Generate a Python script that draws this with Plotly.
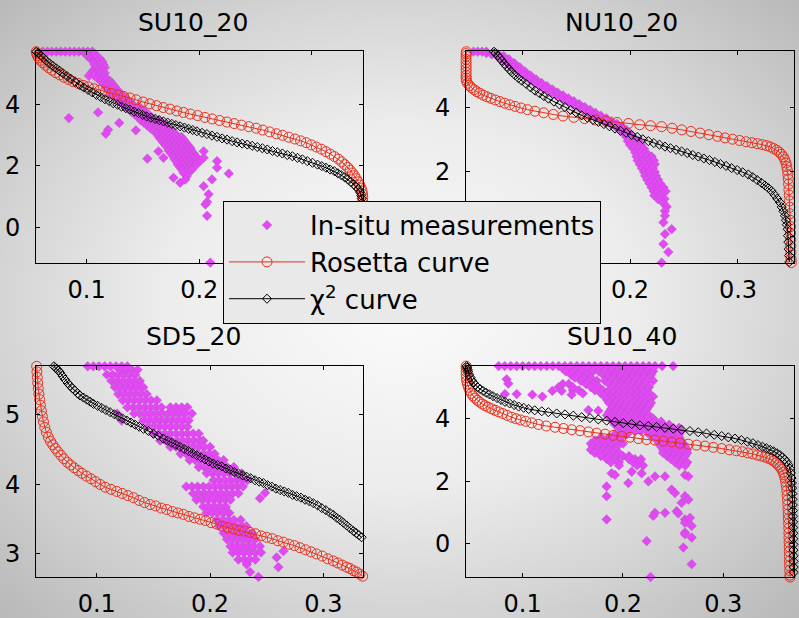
import base64
import plotly.graph_objects as go

# ---------------- DATA ----------------
PANEL_TITLES = ["SU10_20", "NU10_20", "SD5_20", "SU10_40"]
X_TICKS = [0.1, 0.2, 0.3]
Y_TICKS = [[0, 2, 4], [0, 2, 4], [3, 4, 5], [0, 2, 4]]
# tick labels hidden behind the legend in the original are left blank
X_TICKTEXT = [["0.1", "0.2", ""], ["", "0.2", "0.3"], ["0.1", "0.2", "0.3"], ["0.1", "0.2", "0.3"]]
Y_TICKTEXT = [["0", "2", "4"], ["", "2", "4"], ["3", "4", "5"], ["0", "2", "4"]]
X_RANGES = [[0.055, 0.3454], [0.0481, 0.3519], [0.0464, 0.335], [0.0435, 0.3705]]
Y_RANGES = [[-1.15, 5.71], [-0.83, 5.75], [2.663, 5.707], [-1.07, 5.68]]

# SU10_20
su1020_rosetta = [
    (0.0552, 5.70), (0.0556, 5.64), (0.0562, 5.57), (0.0572, 5.50), (0.0590, 5.42), (0.0612, 5.34),
    (0.0636, 5.26), (0.0662, 5.18), (0.0692, 5.10), (0.0725, 5.02), (0.0760, 4.95), (0.0800, 4.87),
    (0.0840, 4.80), (0.0880, 4.73), (0.0925, 4.67), (0.0970, 4.61), (0.1015, 4.56), (0.1065, 4.50),
    (0.1115, 4.45), (0.1165, 4.40), (0.1220, 4.35), (0.1275, 4.30), (0.1330, 4.25), (0.1385, 4.20),
    (0.1440, 4.14), (0.1500, 4.07), (0.1560, 4.01), (0.1620, 3.95), (0.1680, 3.89), (0.1740, 3.84),
    (0.1800, 3.78), (0.1860, 3.73), (0.1920, 3.68), (0.1985, 3.63), (0.2050, 3.57), (0.2115, 3.52),
    (0.2180, 3.47), (0.2245, 3.42), (0.2310, 3.37), (0.2375, 3.32), (0.2440, 3.27), (0.2505, 3.22),
    (0.2565, 3.16), (0.2625, 3.10), (0.2685, 3.04), (0.2740, 2.99), (0.2795, 2.93), (0.2850, 2.87),
    (0.2900, 2.81), (0.2950, 2.75), (0.2995, 2.68), (0.3040, 2.61), (0.3085, 2.54), (0.3125, 2.46),
    (0.3165, 2.38), (0.3200, 2.30), (0.3235, 2.22), (0.3265, 2.13), (0.3292, 2.04), (0.3318, 1.95),
    (0.3340, 1.86), (0.3360, 1.77), (0.3378, 1.68), (0.3395, 1.58), (0.3410, 1.48), (0.3425, 1.38),
    (0.3437, 1.28), (0.3445, 1.18), (0.3450, 1.08), (0.3452, 0.98), (0.3452, 0.85), (0.3452, 0.70),
    (0.3452, 0.50), (0.3452, 0.20), (0.3452, -0.20), (0.3452, -0.60), (0.3452, -1.10),
]
su1020_chi2 = [
    (0.0553, 5.70), (0.0570, 5.66), (0.0592, 5.58), (0.0615, 5.50), (0.0642, 5.41), (0.0670, 5.32),
    (0.0700, 5.24), (0.0730, 5.16), (0.0760, 5.08), (0.0790, 5.00), (0.0825, 4.91), (0.0860, 4.82),
    (0.0898, 4.72), (0.0938, 4.62), (0.0975, 4.54), (0.1012, 4.46), (0.1050, 4.38), (0.1087, 4.30),
    (0.1125, 4.23), (0.1162, 4.16), (0.1200, 4.10), (0.1236, 4.03), (0.1275, 3.98), (0.1310, 3.92),
    (0.1348, 3.87), (0.1385, 3.82), (0.1422, 3.76), (0.1460, 3.71), (0.1498, 3.65), (0.1533, 3.60),
    (0.1570, 3.56), (0.1608, 3.52), (0.1645, 3.48), (0.1682, 3.44), (0.1720, 3.40), (0.1756, 3.36),
    (0.1793, 3.32), (0.1830, 3.28), (0.1868, 3.24), (0.1905, 3.20), (0.1942, 3.16), (0.1979, 3.12),
    (0.2024, 3.07), (0.2068, 3.03), (0.2113, 2.98), (0.2158, 2.94), (0.2203, 2.89), (0.2247, 2.85),
    (0.2292, 2.80), (0.2336, 2.76), (0.2381, 2.72), (0.2426, 2.69), (0.2470, 2.65), (0.2515, 2.61),
    (0.2560, 2.57), (0.2604, 2.53), (0.2650, 2.48), (0.2693, 2.44), (0.2738, 2.40), (0.2782, 2.35),
    (0.2827, 2.31), (0.2872, 2.26), (0.2916, 2.21), (0.2960, 2.15), (0.3005, 2.10), (0.3050, 2.04),
    (0.3088, 1.99), (0.3125, 1.94), (0.3162, 1.88), (0.3199, 1.83), (0.3230, 1.76), (0.3260, 1.70),
    (0.3290, 1.63), (0.3318, 1.56), (0.3345, 1.48), (0.3370, 1.40), (0.3393, 1.32), (0.3412, 1.24),
    (0.3428, 1.14), (0.3437, 1.04), (0.3443, 0.94), (0.3447, 0.80), (0.3450, 0.60), (0.3452, 0.30),
    (0.3453, -0.10), (0.3453, -0.50), (0.3453, -1.00),
]
su1020_insitu = [
    (0.061, 5.70), (0.065, 5.70), (0.069, 5.70), (0.073, 5.70), (0.077, 5.70), (0.081, 5.70),
    (0.085, 5.70), (0.089, 5.70), (0.093, 5.70), (0.097, 5.70), (0.101, 5.70), (0.105, 5.70),
    (0.099, 5.64), (0.103, 5.64), (0.107, 5.64),
    (0.101, 5.55), (0.105, 5.55), (0.109, 5.55),
    (0.104, 5.46), (0.108, 5.46), (0.112, 5.46),
    (0.106, 5.37), (0.110, 5.37), (0.114, 5.37),
    (0.107, 5.28), (0.111, 5.28), (0.115, 5.28),
    (0.108, 5.19), (0.112, 5.19), (0.116, 5.19),
    (0.106, 5.10), (0.110, 5.10), (0.114, 5.10),
    (0.104, 5.01), (0.108, 5.01), (0.112, 5.01), (0.116, 5.01),
    (0.102, 4.92), (0.107, 4.92), (0.111, 4.92), (0.115, 4.92),
    (0.110, 4.83), (0.114, 4.83), (0.118, 4.83),
    (0.113, 4.74), (0.117, 4.74), (0.121, 4.74),
    (0.115, 4.65), (0.119, 4.65), (0.123, 4.65),
    (0.117, 4.56), (0.121, 4.56), (0.125, 4.56),
    (0.119, 4.47), (0.123, 4.47), (0.127, 4.47),
    (0.121, 4.38), (0.125, 4.38), (0.129, 4.38),
    (0.124, 4.29), (0.128, 4.29), (0.132, 4.29),
    (0.127, 4.20), (0.131, 4.20), (0.135, 4.20),
    (0.129, 4.11), (0.133, 4.11), (0.137, 4.11),
    (0.132, 4.02), (0.136, 4.02), (0.140, 4.02),
    (0.134, 3.93), (0.138, 3.93), (0.142, 3.93), (0.146, 3.93),
    (0.137, 3.84), (0.141, 3.84), (0.145, 3.84), (0.149, 3.84),
    (0.140, 3.75), (0.144, 3.75), (0.148, 3.75), (0.152, 3.75),
    (0.143, 3.66), (0.147, 3.66), (0.151, 3.66), (0.155, 3.66),
    (0.146, 3.57), (0.150, 3.57), (0.154, 3.57), (0.158, 3.57),
    (0.148, 3.48), (0.152, 3.48), (0.156, 3.48), (0.160, 3.48), (0.164, 3.48),
    (0.151, 3.39), (0.155, 3.39), (0.159, 3.39), (0.163, 3.39), (0.167, 3.39),
    (0.154, 3.30), (0.158, 3.30), (0.162, 3.30), (0.166, 3.30), (0.170, 3.30),
    (0.157, 3.21), (0.161, 3.21), (0.165, 3.21), (0.169, 3.21), (0.173, 3.21),
    (0.160, 3.12), (0.164, 3.12), (0.168, 3.12), (0.172, 3.12), (0.176, 3.12),
    (0.163, 3.03), (0.167, 3.03), (0.171, 3.03), (0.175, 3.03), (0.179, 3.03),
    (0.164, 2.94), (0.168, 2.94), (0.172, 2.94), (0.176, 2.94), (0.180, 2.94), (0.184, 2.94),
    (0.166, 2.85), (0.170, 2.85), (0.174, 2.85), (0.178, 2.85), (0.182, 2.85), (0.186, 2.85),
    (0.168, 2.76), (0.172, 2.76), (0.176, 2.76), (0.180, 2.76), (0.184, 2.76), (0.188, 2.76),
    (0.170, 2.67), (0.174, 2.67), (0.178, 2.67), (0.182, 2.67), (0.186, 2.67), (0.190, 2.67),
    (0.172, 2.58), (0.176, 2.58), (0.180, 2.58), (0.184, 2.58), (0.188, 2.58), (0.192, 2.58),
    (0.173, 2.49), (0.177, 2.49), (0.181, 2.49), (0.185, 2.49), (0.189, 2.49), (0.193, 2.49),
    (0.175, 2.40), (0.179, 2.40), (0.183, 2.40), (0.187, 2.40), (0.191, 2.40), (0.195, 2.40),
    (0.177, 2.31), (0.181, 2.31), (0.185, 2.31), (0.189, 2.31), (0.193, 2.31), (0.197, 2.31),
    (0.178, 2.22), (0.182, 2.22), (0.186, 2.22), (0.190, 2.22), (0.194, 2.22), (0.198, 2.22),
    (0.180, 2.13), (0.184, 2.13), (0.188, 2.13), (0.192, 2.13), (0.196, 2.13), (0.200, 2.13),
    (0.181, 2.04), (0.185, 2.04), (0.189, 2.04), (0.193, 2.04), (0.197, 2.04),
    (0.183, 1.95), (0.187, 1.95), (0.191, 1.95), (0.195, 1.95),
    (0.185, 1.86), (0.189, 1.86), (0.193, 1.86),
    (0.186, 1.77), (0.190, 1.77),
    (0.0842, 3.55), (0.1101, 3.73), (0.1190, 3.17), (0.1170, 3.04), (0.1289, 3.39), (0.1437, 3.15),
    (0.1539, 2.23), (0.1637, 2.47), (0.1682, 2.26), (0.1771, 1.61), (0.1830, 1.45), (0.1890, 1.67),
    (0.1875, 1.55), (0.2039, 2.47), (0.2039, 2.26), (0.2158, 2.15), (0.2158, 1.94), (0.2262, 1.75),
    (0.2113, 1.56), (0.2039, 1.34), (0.2083, 1.08), (0.2054, 0.75), (0.2069, 0.83), (0.2069, 0.38),
    (0.2098, -1.14),
]

# NU10_20
nu1020_rosetta = [
    (0.0484, 5.74), (0.0483, 5.68), (0.0482, 5.60), (0.0482, 5.50), (0.0482, 5.40), (0.0482, 5.30),
    (0.0482, 5.20), (0.0482, 5.10), (0.0482, 5.00), (0.0482, 4.92), (0.0484, 4.84), (0.0495, 4.76),
    (0.0512, 4.69), (0.0532, 4.62), (0.0555, 4.56), (0.0580, 4.50), (0.0608, 4.45), (0.0640, 4.39),
    (0.0675, 4.34), (0.0712, 4.29), (0.0752, 4.24), (0.0795, 4.19), (0.0840, 4.14), (0.0885, 4.09),
    (0.0935, 4.04), (0.0990, 3.99), (0.1050, 3.94), (0.1120, 3.89), (0.1200, 3.84), (0.1290, 3.79),
    (0.1380, 3.74), (0.1480, 3.70), (0.1580, 3.66), (0.1680, 3.62), (0.1780, 3.58), (0.1880, 3.54),
    (0.1985, 3.51), (0.2090, 3.47), (0.2190, 3.44), (0.2293, 3.41), (0.2390, 3.36), (0.2480, 3.31),
    (0.2565, 3.26), (0.2650, 3.21), (0.2730, 3.16), (0.2810, 3.11), (0.2880, 3.06), (0.2950, 3.02),
    (0.3015, 2.98), (0.3075, 2.94), (0.3130, 2.91), (0.3180, 2.88), (0.3225, 2.85), (0.3265, 2.82),
    (0.3300, 2.78), (0.3330, 2.73), (0.3358, 2.68), (0.3382, 2.62), (0.3402, 2.55), (0.3420, 2.47),
    (0.3434, 2.38), (0.3445, 2.28), (0.3452, 2.17), (0.3458, 2.05), (0.3462, 1.92), (0.3466, 1.78),
    (0.3469, 1.62), (0.3472, 1.45), (0.3475, 1.28), (0.3478, 1.10), (0.3480, 0.90), (0.3482, 0.70),
    (0.3484, 0.50), (0.3486, 0.30), (0.3487, 0.10), (0.3488, -0.10), (0.3489, -0.30), (0.3490, -0.50),
    (0.3492, -0.70), (0.3494, -0.82),
]
nu1020_chi2 = [
    (0.0740, 5.74), (0.0755, 5.70), (0.0775, 5.62), (0.0795, 5.54), (0.0812, 5.46), (0.0835, 5.37),
    (0.0858, 5.28), (0.0882, 5.19), (0.0905, 5.10), (0.0935, 5.01), (0.0966, 4.92), (0.0997, 4.84),
    (0.1038, 4.74), (0.1079, 4.63), (0.1120, 4.53), (0.1161, 4.45), (0.1202, 4.36), (0.1244, 4.28),
    (0.1295, 4.19), (0.1347, 4.10), (0.1398, 4.02), (0.1450, 3.93), (0.1501, 3.85), (0.1553, 3.76),
    (0.1604, 3.69), (0.1656, 3.62), (0.1707, 3.56), (0.1758, 3.49), (0.1810, 3.42), (0.1861, 3.35),
    (0.1912, 3.28), (0.1964, 3.22), (0.2015, 3.15), (0.2067, 3.09), (0.2118, 3.02), (0.2170, 2.96),
    (0.2221, 2.90), (0.2273, 2.85), (0.2324, 2.79), (0.2375, 2.74), (0.2427, 2.69), (0.2478, 2.64),
    (0.2530, 2.59), (0.2581, 2.53), (0.2633, 2.48), (0.2684, 2.42), (0.2736, 2.37), (0.2787, 2.31),
    (0.2838, 2.25), (0.2890, 2.19), (0.2941, 2.12), (0.2993, 2.06), (0.3044, 1.99), (0.3096, 1.92),
    (0.3137, 1.84), (0.3178, 1.75), (0.3219, 1.66), (0.3250, 1.58), (0.3281, 1.50), (0.3312, 1.41),
    (0.3338, 1.29), (0.3364, 1.17), (0.3389, 1.05), (0.3405, 0.91), (0.3420, 0.78), (0.3435, 0.64),
    (0.3444, 0.50), (0.3452, 0.36), (0.3460, 0.22), (0.3463, 0.02), (0.3466, -0.18), (0.3470, -0.40),
    (0.3473, -0.60), (0.3475, -0.80),
]
nu1020_insitu = [
    (0.055, 5.74), (0.059, 5.74), (0.063, 5.74), (0.067, 5.74),
    (0.067, 5.70), (0.073, 5.70), (0.072, 5.66), (0.078, 5.66),
    (0.077, 5.60), (0.083, 5.60), (0.082, 5.50), (0.088, 5.50),
    (0.087, 5.38), (0.093, 5.38), (0.092, 5.25), (0.098, 5.25),
    (0.097, 5.12), (0.103, 5.12), (0.102, 5.00), (0.108, 5.00),
    (0.107, 4.88), (0.113, 4.88), (0.112, 4.77), (0.118, 4.77),
    (0.117, 4.67), (0.123, 4.67), (0.122, 4.57), (0.128, 4.57),
    (0.127, 4.47), (0.133, 4.47), (0.132, 4.38), (0.138, 4.38),
    (0.137, 4.29), (0.143, 4.29), (0.142, 4.20), (0.148, 4.20),
    (0.147, 4.11), (0.153, 4.11), (0.152, 4.02), (0.158, 4.02),
    (0.157, 3.93), (0.163, 3.93), (0.162, 3.84), (0.168, 3.84),
    (0.167, 3.75), (0.173, 3.75), (0.172, 3.67), (0.178, 3.67),
    (0.177, 3.58), (0.183, 3.58), (0.182, 3.50), (0.188, 3.50),
    (0.187, 3.40), (0.193, 3.40), (0.191, 3.30), (0.197, 3.30),
    (0.194, 3.20), (0.200, 3.20), (0.197, 3.08), (0.203, 3.08),
    (0.198, 2.96), (0.203, 2.96), (0.208, 2.96),
    (0.200, 2.84), (0.205, 2.84), (0.210, 2.84),
    (0.203, 2.72), (0.208, 2.72), (0.213, 2.72),
    (0.205, 2.60), (0.210, 2.60), (0.215, 2.60),
    (0.206, 2.48), (0.211, 2.48), (0.216, 2.48), (0.220, 2.48),
    (0.207, 2.36), (0.212, 2.36), (0.217, 2.36), (0.222, 2.36),
    (0.209, 2.24), (0.214, 2.24), (0.219, 2.24), (0.223, 2.24),
    (0.211, 2.12), (0.216, 2.12), (0.221, 2.12),
    (0.213, 2.00), (0.218, 2.00), (0.223, 2.00),
    (0.214, 1.88), (0.219, 1.88), (0.224, 1.88),
    (0.216, 1.76), (0.221, 1.76), (0.226, 1.76),
    (0.218, 1.64), (0.223, 1.64), (0.228, 1.64),
    (0.220, 1.52), (0.225, 1.52), (0.231, 1.52),
    (0.222, 1.40), (0.227, 1.40), (0.233, 1.40),
    (0.2225, 1.27), (0.228, 1.28), (0.232, 1.16),
    (0.226, 1.16), (0.2309, 1.03), (0.234, 0.92),
    (0.2324, 0.79), (0.2324, 0.64), (0.2309, 0.43),
    (0.2386, 0.22), (0.2324, 0.07), (0.2309, -0.24), (0.2355, -0.49), (0.2293, -0.82),
]

# SD5_20
sd520_rosetta = [
    (0.0470, 5.70), (0.0472, 5.62), (0.0475, 5.54), (0.0479, 5.46), (0.0484, 5.38), (0.0490, 5.30),
    (0.0496, 5.22), (0.0503, 5.14), (0.0511, 5.06), (0.0520, 4.98), (0.0530, 4.90), (0.0542, 4.82),
    (0.0556, 4.75), (0.0573, 4.68), (0.0592, 4.62), (0.0612, 4.57), (0.0634, 4.52), (0.0658, 4.47),
    (0.0684, 4.42), (0.0710, 4.37), (0.0740, 4.32), (0.0770, 4.28), (0.0800, 4.24), (0.0835, 4.20),
    (0.0870, 4.16), (0.0910, 4.12), (0.0950, 4.08), (0.0990, 4.04), (0.1030, 4.00), (0.1075, 3.96),
    (0.1125, 3.93), (0.1176, 3.90), (0.1225, 3.87), (0.1275, 3.84), (0.1324, 3.81), (0.1373, 3.77),
    (0.1422, 3.74), (0.1471, 3.71), (0.1520, 3.69), (0.1569, 3.66), (0.1618, 3.64), (0.1667, 3.61),
    (0.1716, 3.59), (0.1765, 3.57), (0.1814, 3.54), (0.1863, 3.52), (0.1912, 3.50), (0.1961, 3.48),
    (0.2010, 3.45), (0.2059, 3.43), (0.2108, 3.40), (0.2157, 3.38), (0.2206, 3.36), (0.2255, 3.34),
    (0.2304, 3.33), (0.2353, 3.31), (0.2402, 3.29), (0.2451, 3.26), (0.2500, 3.24), (0.2549, 3.22),
    (0.2598, 3.19), (0.2647, 3.17), (0.2696, 3.14), (0.2745, 3.12), (0.2794, 3.09), (0.2843, 3.06),
    (0.2892, 3.03), (0.2941, 3.00), (0.2990, 2.97), (0.3039, 2.93), (0.3088, 2.90), (0.3128, 2.87),
    (0.3167, 2.84), (0.3206, 2.81), (0.3236, 2.79), (0.3265, 2.76), (0.3294, 2.74), (0.3323, 2.71),
    (0.3347, 2.68),
]
sd520_chi2 = [
    (0.0622, 5.70), (0.0635, 5.68), (0.0648, 5.66), (0.0661, 5.64), (0.0676, 5.61), (0.0698, 5.56),
    (0.0720, 5.51), (0.0743, 5.46), (0.0765, 5.42), (0.0787, 5.38), (0.0809, 5.35), (0.0831, 5.31),
    (0.0853, 5.28), (0.0883, 5.25), (0.0912, 5.22), (0.0942, 5.19), (0.0971, 5.16), (0.1008, 5.13),
    (0.1045, 5.10), (0.1081, 5.07), (0.1118, 5.04), (0.1155, 5.01), (0.1192, 4.98), (0.1228, 4.95),
    (0.1265, 4.92), (0.1302, 4.89), (0.1339, 4.86), (0.1375, 4.83), (0.1412, 4.80), (0.1456, 4.77),
    (0.1500, 4.73), (0.1544, 4.70), (0.1588, 4.66), (0.1625, 4.63), (0.1662, 4.60), (0.1698, 4.57),
    (0.1735, 4.54), (0.1772, 4.51), (0.1809, 4.48), (0.1845, 4.45), (0.1882, 4.42), (0.1919, 4.39),
    (0.1956, 4.36), (0.1992, 4.33), (0.2029, 4.30), (0.2066, 4.28), (0.2103, 4.26), (0.2139, 4.23),
    (0.2176, 4.21), (0.2213, 4.18), (0.2250, 4.16), (0.2287, 4.13), (0.2324, 4.11), (0.2360, 4.09),
    (0.2397, 4.06), (0.2434, 4.04), (0.2471, 4.02), (0.2508, 3.99), (0.2545, 3.97), (0.2581, 3.94),
    (0.2618, 3.92), (0.2655, 3.90), (0.2692, 3.88), (0.2728, 3.85), (0.2765, 3.83), (0.2802, 3.81),
    (0.2839, 3.78), (0.2875, 3.76), (0.2912, 3.73), (0.2949, 3.70), (0.2986, 3.66), (0.3022, 3.63),
    (0.3059, 3.59), (0.3088, 3.56), (0.3118, 3.52), (0.3147, 3.49), (0.3176, 3.45), (0.3206, 3.41),
    (0.3235, 3.37), (0.3265, 3.33), (0.3290, 3.30), (0.3314, 3.27), (0.3338, 3.24),
]
sd520_insitu = [
    (0.092, 5.70), (0.097, 5.70), (0.102, 5.70), (0.107, 5.70), (0.112, 5.70), (0.117, 5.70), (0.122, 5.70), (0.127, 5.70),
    (0.121, 5.65), (0.126, 5.65), (0.131, 5.65), (0.136, 5.65),
    (0.109, 5.58), (0.114, 5.58), (0.119, 5.58), (0.124, 5.58), (0.129, 5.58), (0.134, 5.58),
    (0.113, 5.49), (0.118, 5.49), (0.123, 5.49), (0.128, 5.49), (0.133, 5.49), (0.138, 5.49),
    (0.116, 5.40), (0.121, 5.40), (0.126, 5.40), (0.131, 5.40), (0.136, 5.40), (0.141, 5.40),
    (0.119, 5.30), (0.124, 5.30), (0.129, 5.30), (0.134, 5.30), (0.139, 5.30), (0.144, 5.30),
    (0.123, 5.21), (0.128, 5.21), (0.133, 5.21), (0.138, 5.21), (0.143, 5.21), (0.148, 5.21), (0.153, 5.21),
    (0.127, 5.11), (0.132, 5.11), (0.137, 5.11), (0.142, 5.11), (0.147, 5.11), (0.152, 5.11), (0.157, 5.11),
    (0.165, 5.11), (0.170, 5.11), (0.175, 5.11), (0.180, 5.11),
    (0.118, 5.02), (0.133, 5.02), (0.138, 5.02), (0.143, 5.02), (0.148, 5.02), (0.153, 5.02), (0.158, 5.02),
    (0.163, 5.02), (0.168, 5.02), (0.173, 5.02), (0.178, 5.02), (0.184, 5.02),
    (0.122, 4.92), (0.141, 4.92), (0.146, 4.92), (0.151, 4.92), (0.156, 4.92), (0.161, 4.92), (0.166, 4.92),
    (0.171, 4.92), (0.176, 4.92), (0.181, 4.92),
    (0.145, 4.83), (0.150, 4.83), (0.155, 4.83), (0.160, 4.83), (0.165, 4.83), (0.170, 4.83), (0.175, 4.83), (0.180, 4.83),
    (0.150, 4.73), (0.155, 4.73), (0.160, 4.73), (0.165, 4.73), (0.170, 4.73), (0.175, 4.73), (0.180, 4.73), (0.185, 4.73), (0.190, 4.73),
    (0.156, 4.63), (0.161, 4.63), (0.166, 4.63), (0.171, 4.63), (0.176, 4.63), (0.181, 4.63), (0.186, 4.63), (0.191, 4.63), (0.194, 4.63),
    (0.165, 4.54), (0.170, 4.54), (0.175, 4.54), (0.180, 4.54), (0.185, 4.54), (0.190, 4.54), (0.195, 4.54), (0.200, 4.54),
    (0.174, 4.44), (0.179, 4.44), (0.184, 4.44), (0.189, 4.44), (0.194, 4.44), (0.199, 4.44), (0.204, 4.44),
    (0.182, 4.35), (0.187, 4.35), (0.192, 4.35), (0.197, 4.35), (0.202, 4.35), (0.207, 4.35), (0.212, 4.35),
    (0.190, 4.25), (0.195, 4.25), (0.200, 4.25), (0.205, 4.25), (0.210, 4.25), (0.215, 4.25), (0.221, 4.25),
    (0.197, 4.16), (0.202, 4.16), (0.207, 4.16), (0.212, 4.16), (0.217, 4.16), (0.222, 4.16), (0.228, 4.16),
    (0.203, 4.06), (0.208, 4.06), (0.213, 4.06), (0.218, 4.06), (0.223, 4.06), (0.228, 4.06), (0.233, 4.06),
    (0.179, 3.97), (0.184, 3.97), (0.189, 3.97), (0.194, 3.97), (0.199, 3.97), (0.204, 3.97), (0.209, 3.97),
    (0.214, 3.97), (0.219, 3.97), (0.224, 3.97), (0.229, 3.97),
    (0.185, 3.87), (0.190, 3.87), (0.195, 3.87), (0.200, 3.87), (0.205, 3.87), (0.210, 3.87), (0.215, 3.87),
    (0.220, 3.87), (0.225, 3.87), (0.2486, 3.88), (0.244, 3.80),
    (0.188, 3.78), (0.193, 3.78), (0.198, 3.78), (0.203, 3.78), (0.208, 3.78), (0.213, 3.78), (0.218, 3.78),
    (0.194, 3.68), (0.199, 3.68), (0.204, 3.68), (0.209, 3.68), (0.214, 3.68),
    (0.197, 3.59), (0.202, 3.59), (0.207, 3.59), (0.212, 3.59), (0.217, 3.59),
    (0.206, 3.49), (0.211, 3.49), (0.216, 3.49), (0.221, 3.49), (0.227, 3.49),
    (0.208, 3.40), (0.213, 3.40), (0.218, 3.40), (0.223, 3.40), (0.228, 3.40), (0.232, 3.40),
    (0.212, 3.30), (0.217, 3.30), (0.222, 3.30), (0.227, 3.30), (0.232, 3.30), (0.237, 3.30),
    (0.215, 3.21), (0.220, 3.21), (0.225, 3.21), (0.230, 3.21), (0.235, 3.21), (0.240, 3.21),
    (0.218, 3.11), (0.223, 3.11), (0.228, 3.11), (0.233, 3.11), (0.238, 3.11), (0.244, 3.11),
    (0.220, 3.02), (0.225, 3.02), (0.230, 3.02), (0.235, 3.02), (0.240, 3.02), (0.245, 3.02),
    (0.225, 2.92), (0.230, 2.92), (0.235, 2.92), (0.240, 2.92),
    (0.2324, 2.85), (0.2353, 2.74), (0.2427, 2.67), (0.2588, 2.95), (0.2603, 2.81), (0.2647, 3.04),
]

# SU10_40
su1040_rosetta = [
    (0.0437, 5.67), (0.0437, 5.60), (0.0437, 5.50), (0.0437, 5.40), (0.0438, 5.30),
    (0.0442, 5.20), (0.0450, 5.10), (0.0460, 5.00), (0.0472, 4.90), (0.0488, 4.80), (0.0505, 4.72),
    (0.0525, 4.65), (0.0548, 4.58), (0.0572, 4.52), (0.0598, 4.46), (0.0625, 4.41), (0.0655, 4.36),
    (0.0690, 4.31), (0.0725, 4.26), (0.0760, 4.21), (0.0800, 4.16), (0.0845, 4.10), (0.0890, 4.04),
    (0.0935, 3.99), (0.0980, 3.95), (0.1030, 3.91), (0.1090, 3.86), (0.1156, 3.81), (0.1235, 3.76),
    (0.1323, 3.72), (0.1406, 3.68), (0.1489, 3.64), (0.1572, 3.61), (0.1655, 3.57), (0.1738, 3.53),
    (0.1821, 3.50), (0.1904, 3.46), (0.1987, 3.43), (0.2070, 3.40), (0.2153, 3.36), (0.2236, 3.33),
    (0.2319, 3.31), (0.2402, 3.28), (0.2485, 3.25), (0.2568, 3.21), (0.2651, 3.18), (0.2734, 3.15),
    (0.2817, 3.12), (0.2900, 3.08), (0.2984, 3.04), (0.3060, 3.00), (0.3130, 2.97), (0.3190, 2.94),
    (0.3245, 2.90), (0.3295, 2.87), (0.3340, 2.83), (0.3380, 2.80), (0.3416, 2.77), (0.3448, 2.73),
    (0.3477, 2.69), (0.3502, 2.64), (0.3525, 2.58), (0.3546, 2.52), (0.3565, 2.45), (0.3582, 2.38),
    (0.3596, 2.29), (0.3607, 2.20), (0.3615, 2.10), (0.3622, 1.98), (0.3628, 1.85), (0.3633, 1.70),
    (0.3637, 1.55), (0.3640, 1.40), (0.3643, 1.25), (0.3645, 1.10), (0.3647, 0.95), (0.3649, 0.80),
    (0.3651, 0.65), (0.3653, 0.50), (0.3654, 0.35), (0.3655, 0.20), (0.3656, 0.05), (0.3657, -0.10),
    (0.3658, -0.25), (0.3659, -0.40), (0.3660, -0.55), (0.3661, -0.70), (0.3662, -0.85), (0.3664, -1.00),
    (0.3666, -1.06),
]
su1040_chi2 = [
    (0.0442, 5.67), (0.0446, 5.62), (0.0451, 5.56), (0.0458, 5.50), (0.0468, 5.40), (0.0480, 5.31),
    (0.0494, 5.22), (0.0510, 5.14), (0.0528, 5.07), (0.0550, 5.00), (0.0575, 4.94), (0.0605, 4.88),
    (0.0635, 4.82), (0.0668, 4.77), (0.0705, 4.71), (0.0745, 4.65), (0.0785, 4.59), (0.0824, 4.53),
    (0.0870, 4.48), (0.0915, 4.43), (0.0960, 4.38), (0.1010, 4.34), (0.1060, 4.30), (0.1120, 4.26),
    (0.1190, 4.23), (0.1256, 4.20), (0.1339, 4.16), (0.1422, 4.13), (0.1505, 4.09), (0.1588, 4.04),
    (0.1671, 4.01), (0.1754, 3.97), (0.1837, 3.93), (0.1920, 3.89), (0.2003, 3.85), (0.2086, 3.82),
    (0.2169, 3.78), (0.2252, 3.76), (0.2335, 3.73), (0.2418, 3.70), (0.2501, 3.67), (0.2584, 3.64),
    (0.2667, 3.60), (0.2750, 3.56), (0.2833, 3.52), (0.2910, 3.48), (0.2984, 3.44), (0.3050, 3.40),
    (0.3117, 3.36), (0.3180, 3.31), (0.3240, 3.26), (0.3295, 3.21), (0.3345, 3.15), (0.3390, 3.10),
    (0.3430, 3.05), (0.3468, 3.00), (0.3502, 2.95), (0.3535, 2.89), (0.3565, 2.83), (0.3590, 2.76),
    (0.3612, 2.69), (0.3632, 2.62), (0.3650, 2.52), (0.3665, 2.40), (0.3674, 2.26), (0.3680, 2.10),
    (0.3684, 1.94), (0.3687, 1.78), (0.3689, 1.60), (0.3691, 1.42), (0.3693, 1.24), (0.3694, 1.06),
    (0.3695, 0.88), (0.3696, 0.70), (0.3697, 0.52), (0.3698, 0.34), (0.3699, 0.16), (0.3700, -0.02),
    (0.3700, -0.20), (0.3701, -0.38), (0.3701, -0.56), (0.3702, -0.74), (0.3702, -0.91),
]
su1040_insitu = [
    (0.076, 5.67), (0.082, 5.67), (0.088, 5.67), (0.094, 5.67), (0.100, 5.67), (0.106, 5.67), (0.112, 5.67),
    (0.118, 5.67), (0.124, 5.67), (0.130, 5.67), (0.136, 5.67), (0.142, 5.67), (0.148, 5.67), (0.154, 5.67),
    (0.160, 5.67), (0.166, 5.67), (0.172, 5.67), (0.178, 5.67), (0.184, 5.67), (0.190, 5.67), (0.196, 5.67),
    (0.202, 5.67), (0.208, 5.67), (0.214, 5.67), (0.220, 5.67), (0.226, 5.67), (0.232, 5.67), (0.239, 5.67),
    (0.250, 5.67),
    (0.140, 5.60), (0.146, 5.60), (0.160, 5.60), (0.166, 5.60), (0.172, 5.60), (0.178, 5.60), (0.184, 5.60),
    (0.190, 5.60), (0.196, 5.60), (0.202, 5.60), (0.208, 5.60), (0.214, 5.60), (0.220, 5.60), (0.226, 5.60),
    (0.143, 5.50), (0.152, 5.50), (0.158, 5.50), (0.170, 5.50), (0.176, 5.50), (0.182, 5.50), (0.188, 5.50),
    (0.194, 5.50), (0.200, 5.50), (0.206, 5.50), (0.212, 5.50), (0.218, 5.50), (0.224, 5.50), (0.230, 5.50),
    (0.148, 5.40), (0.155, 5.40), (0.164, 5.40), (0.180, 5.40), (0.186, 5.40), (0.192, 5.40), (0.198, 5.40),
    (0.204, 5.40), (0.210, 5.40), (0.216, 5.40), (0.222, 5.40), (0.228, 5.40),
    (0.084, 5.25), (0.152, 5.30), (0.160, 5.30), (0.168, 5.30), (0.185, 5.30), (0.191, 5.30), (0.197, 5.30),
    (0.203, 5.30), (0.209, 5.30), (0.215, 5.30), (0.221, 5.30), (0.227, 5.30),
    (0.158, 5.20), (0.166, 5.20), (0.174, 5.20), (0.182, 5.20), (0.188, 5.20), (0.194, 5.20), (0.200, 5.20),
    (0.206, 5.20), (0.212, 5.20), (0.218, 5.20), (0.224, 5.20), (0.230, 5.20),
    (0.0857, 5.11), (0.140, 5.10), (0.146, 5.10), (0.163, 5.10), (0.171, 5.10), (0.186, 5.10), (0.192, 5.10),
    (0.198, 5.10), (0.204, 5.10), (0.210, 5.10), (0.216, 5.10), (0.222, 5.10),
    (0.136, 5.00), (0.150, 5.00), (0.168, 5.00), (0.176, 5.00), (0.190, 5.00), (0.196, 5.00), (0.202, 5.00),
    (0.208, 5.00), (0.214, 5.00), (0.220, 5.00), (0.226, 5.00),
    (0.1296, 4.88), (0.1388, 4.88), (0.150, 4.90), (0.156, 4.90), (0.172, 4.90), (0.180, 4.90), (0.186, 4.90),
    (0.194, 4.90), (0.200, 4.90), (0.206, 4.90), (0.212, 4.90), (0.218, 4.90), (0.224, 4.90),
    (0.0823, 4.78), (0.094, 4.78), (0.1096, 4.76), (0.1196, 4.70), (0.1488, 4.76),
    (0.160, 4.80), (0.178, 4.80), (0.184, 4.80), (0.190, 4.80), (0.196, 4.80), (0.202, 4.80), (0.208, 4.80),
    (0.214, 4.80), (0.220, 4.80), (0.226, 4.80),
    (0.182, 4.70), (0.188, 4.70), (0.194, 4.70), (0.200, 4.70), (0.206, 4.70), (0.212, 4.70), (0.218, 4.70),
    (0.224, 4.70), (0.230, 4.70),
    (0.184, 4.60), (0.190, 4.60), (0.196, 4.60), (0.202, 4.60), (0.208, 4.60), (0.214, 4.60), (0.220, 4.60), (0.226, 4.60),
    (0.186, 4.50), (0.192, 4.50), (0.198, 4.50), (0.204, 4.50), (0.210, 4.50), (0.216, 4.50), (0.222, 4.50), (0.228, 4.50),
    (0.190, 4.40), (0.196, 4.40), (0.202, 4.40), (0.208, 4.40), (0.214, 4.40), (0.220, 4.40), (0.226, 4.40),
    (0.1655, 4.27), (0.1754, 4.25),
    (0.188, 4.30), (0.194, 4.30), (0.200, 4.30), (0.206, 4.30), (0.212, 4.30), (0.218, 4.30), (0.224, 4.30),
    (0.186, 4.20), (0.192, 4.20), (0.198, 4.20), (0.204, 4.20), (0.210, 4.20), (0.216, 4.20), (0.222, 4.20),
    (0.184, 4.10), (0.190, 4.10), (0.196, 4.10), (0.202, 4.10), (0.208, 4.10), (0.214, 4.10), (0.220, 4.10), (0.226, 4.10),
    (0.188, 4.00), (0.194, 4.00), (0.200, 4.00), (0.206, 4.00), (0.212, 4.00), (0.218, 4.00), (0.224, 4.00), (0.230, 4.00),
    (0.190, 3.90), (0.196, 3.90), (0.202, 3.90), (0.208, 3.90), (0.214, 3.90), (0.220, 3.90), (0.226, 3.90),
    (0.232, 3.90), (0.238, 3.90),
    (0.192, 3.80), (0.198, 3.80), (0.204, 3.80), (0.210, 3.80), (0.216, 3.80), (0.222, 3.80), (0.228, 3.80),
    (0.234, 3.80), (0.240, 3.80), (0.246, 3.80),
    (0.196, 3.70), (0.202, 3.70), (0.208, 3.70), (0.214, 3.70), (0.220, 3.70), (0.226, 3.70), (0.232, 3.70),
    (0.238, 3.70), (0.244, 3.70), (0.250, 3.70), (0.256, 3.70),
    (0.200, 3.60), (0.206, 3.60), (0.212, 3.60), (0.218, 3.60), (0.224, 3.60), (0.230, 3.60), (0.236, 3.60),
    (0.242, 3.60), (0.248, 3.60), (0.254, 3.60), (0.258, 3.60),
    (0.192, 3.50), (0.198, 3.50), (0.204, 3.50), (0.226, 3.50), (0.232, 3.50), (0.238, 3.50), (0.244, 3.50),
    (0.250, 3.50), (0.256, 3.50),
    (0.178, 3.40), (0.186, 3.40), (0.192, 3.40), (0.198, 3.40), (0.232, 3.40), (0.238, 3.40), (0.244, 3.40),
    (0.250, 3.40), (0.256, 3.40),
    (0.172, 3.30), (0.178, 3.30), (0.184, 3.30), (0.190, 3.30), (0.196, 3.30), (0.234, 3.30), (0.240, 3.30),
    (0.246, 3.30), (0.252, 3.30), (0.258, 3.30),
    (0.168, 3.20), (0.174, 3.20), (0.180, 3.20), (0.186, 3.20), (0.192, 3.20), (0.200, 3.20), (0.236, 3.20),
    (0.242, 3.20), (0.248, 3.20), (0.254, 3.20), (0.260, 3.20),
    (0.170, 3.10), (0.176, 3.10), (0.182, 3.10), (0.188, 3.10), (0.194, 3.10), (0.238, 3.10), (0.244, 3.10),
    (0.250, 3.10), (0.256, 3.10), (0.262, 3.10),
    (0.168, 3.00), (0.174, 3.00), (0.180, 3.00), (0.186, 3.00), (0.192, 3.00), (0.240, 3.00), (0.246, 3.00),
    (0.252, 3.00), (0.258, 3.00), (0.264, 3.00),
    (0.172, 2.90), (0.178, 2.90), (0.184, 2.90), (0.190, 2.90), (0.196, 2.90), (0.240, 2.90), (0.246, 2.90),
    (0.252, 2.90), (0.258, 2.90), (0.264, 2.90),
    (0.178, 2.80), (0.186, 2.80), (0.194, 2.80), (0.200, 2.80), (0.206, 2.80), (0.244, 2.80), (0.250, 2.80),
    (0.256, 2.80), (0.262, 2.80),
    (0.184, 2.70), (0.192, 2.70), (0.206, 2.70), (0.212, 2.70), (0.218, 2.70), (0.248, 2.70), (0.254, 2.70), (0.260, 2.70),
    (0.188, 2.60), (0.196, 2.60), (0.210, 2.60), (0.216, 2.60), (0.252, 2.60), (0.258, 2.60), (0.264, 2.60),
    (0.196, 2.50), (0.214, 2.50), (0.220, 2.50), (0.256, 2.50), (0.262, 2.50),
    (0.1887, 2.25), (0.1920, 2.20), (0.2087, 2.30), (0.2186, 2.25), (0.2053, 1.94), (0.2253, 1.99),
    (0.2319, 2.15), (0.2419, 2.15), (0.2618, 2.20), (0.2652, 2.15),
    (0.1837, 1.83), (0.1837, 1.52), (0.1837, 0.78), (0.2485, 1.73), (0.2519, 1.62), (0.2618, 1.52),
    (0.2652, 1.41), (0.2585, 1.31), (0.2319, 0.99), (0.2419, 0.99), (0.2535, 1.04), (0.2618, 0.78),
    (0.2668, 0.83), (0.2685, 0.57), (0.2618, 0.67), (0.2236, 0.09), (0.2618, 0.36), (0.2685, 0.20),
    (0.2602, -0.12), (0.2685, -0.65), (0.2275, -1.06), (0.2302, 0.89), (0.2551, 0.97), (0.2618, 0.31),
]

INSITU = [su1020_insitu, nu1020_insitu, sd520_insitu, su1040_insitu]
ROSETTA = [su1020_rosetta, nu1020_rosetta, sd520_rosetta, su1040_rosetta]
CHI2 = [su1020_chi2, nu1020_chi2, sd520_chi2, su1040_chi2]
SERIES_NAMES = ["In-situ measurements", "Rosetta curve", "\u03c7<sup>2</sup> curve"]

# ---------------- STYLE / LAYOUT ----------------
W, H = 799, 618
FONT = "DejaVu Sans"
MAGENTA = "#e448f6"
RED = "#e8301c"

# panel boxes in pixels (left, right, top, bottom)
BOXES = [(36, 363, 52, 266), (466, 794, 52, 266), (36, 363, 370, 584), (466, 794, 370, 584)]
TITLE_POS = [(192.5, 23), (621, 23), (193.3, 340.5), (621.7, 340)]

GRAD_STOPS = [(0, "#fbfbfb"), (0.4, "#ececec"), (0.67, "#d4d4d4"), (0.94, "#b9b9b9"), (1, "#b2b2b2")]
svg = (
    '<svg xmlns="http://www.w3.org/2000/svg" width="799" height="618" viewBox="0 0 799 618" '
    'preserveAspectRatio="none"><defs><radialGradient id="g" cx="0.5" cy="0.5" r="0.75">'
    + "".join(f'<stop offset="{o}" stop-color="{c}"/>' for o, c in GRAD_STOPS)
    + '</radialGradient></defs><rect width="799" height="618" fill="url(#g)"/></svg>'
)
bg_uri = "data:image/svg+xml;base64," + base64.b64encode(svg.encode()).decode()
css_grad = "radial-gradient(ellipse 75% 75% at 50% 50%, " + ", ".join(
    f"{c} {o * 100:g}%" for o, c in GRAD_STOPS) + ")"

fig = go.Figure()

for i in range(4):
    xa = "x" if i == 0 else f"x{i+1}"
    ya = "y" if i == 0 else f"y{i+1}"
    show = i == 0
    ins = INSITU[i]
    fig.add_trace(go.Scatter(
        x=[p[0] for p in ins], y=[p[1] for p in ins], mode="markers", name=SERIES_NAMES[0],
        xaxis=xa, yaxis=ya, showlegend=show, cliponaxis=False,
        marker=dict(symbol="diamond", size=7.5, color=MAGENTA,
                    line=dict(color="rgba(140,90,150,0.55)", width=0.5)),
    ))
    ros = ROSETTA[i]
    fig.add_trace(go.Scatter(
        x=[p[0] for p in ros], y=[p[1] for p in ros], mode="lines+markers", name=SERIES_NAMES[1],
        xaxis=xa, yaxis=ya, showlegend=show, cliponaxis=False,
        line=dict(color=RED, width=1),
        marker=dict(symbol="circle-open", size=10, color=RED, line=dict(width=1)),
    ))
    chi = CHI2[i]
    fig.add_trace(go.Scatter(
        x=[p[0] for p in chi], y=[p[1] for p in chi], mode="lines+markers", name=SERIES_NAMES[2],
        xaxis=xa, yaxis=ya, showlegend=show, cliponaxis=False,
        line=dict(color="black", width=1),
        marker=dict(symbol="diamond-open", size=7, color="black", line=dict(width=1)),
    ))

axis_common = dict(
    showline=True, linecolor="black", linewidth=1, mirror="ticks", ticks="inside", ticklen=4,
    tickcolor="black", showgrid=False, zeroline=False,
    tickfont=dict(family=FONT, size=24, color="black"),
)
layout_axes = {}
for i, (l, r, t, b) in enumerate(BOXES):
    sx = "" if i == 0 else str(i + 1)
    layout_axes[f"xaxis{sx}"] = dict(
        axis_common, domain=[l / W, r / W], range=X_RANGES[i], anchor=f"y{sx}",
        tickvals=X_TICKS, ticktext=X_TICKTEXT[i], ticklabelstandoff=5,
    )
    layout_axes[f"yaxis{sx}"] = dict(
        axis_common, domain=[1 - b / H, 1 - t / H], range=Y_RANGES[i], anchor=f"x{sx}",
        tickvals=Y_TICKS[i], ticktext=Y_TICKTEXT[i], ticklabelstandoff=10,
    )

fig.update_layout(
    width=W, height=H, margin=dict(l=0, r=0, t=0, b=0),
    paper_bgcolor="rgba(0,0,0,0)", plot_bgcolor="rgba(0,0,0,0)",
    font=dict(family=FONT, color="black"),
    images=[dict(source=bg_uri, xref="paper", yref="paper", x=0, y=1, sizex=1, sizey=1,
                 sizing="stretch", layer="below", xanchor="left", yanchor="top")],
    legend=dict(
        x=223 / W, y=1 - 203 / H, xanchor="left", yanchor="top",
        bgcolor="#e9e9e9", bordercolor="black", borderwidth=1,
        font=dict(family=FONT, size=26, color="black"), itemwidth=76,
        tracegroupgap=0,
    ),
    annotations=[
        dict(text=PANEL_TITLES[i], xref="paper", yref="paper", x=px / W, y=1 - py / H,
             xanchor="center", yanchor="middle", showarrow=False,
             font=dict(family=FONT, size=25, color="black"))
        for i, (px, py) in enumerate(TITLE_POS)
    ],
    **layout_axes,
)

fig.write_html(
    "out.html", config={"displayModeBar": False},
    post_script=(
        "document.body.style.margin='0';"
        "document.body.style.overflow='hidden';"
        "document.documentElement.style.overflow='hidden';"
        "document.documentElement.style.height='100%';"
        "document.documentElement.style.background='" + css_grad + "';"
    ),
)
